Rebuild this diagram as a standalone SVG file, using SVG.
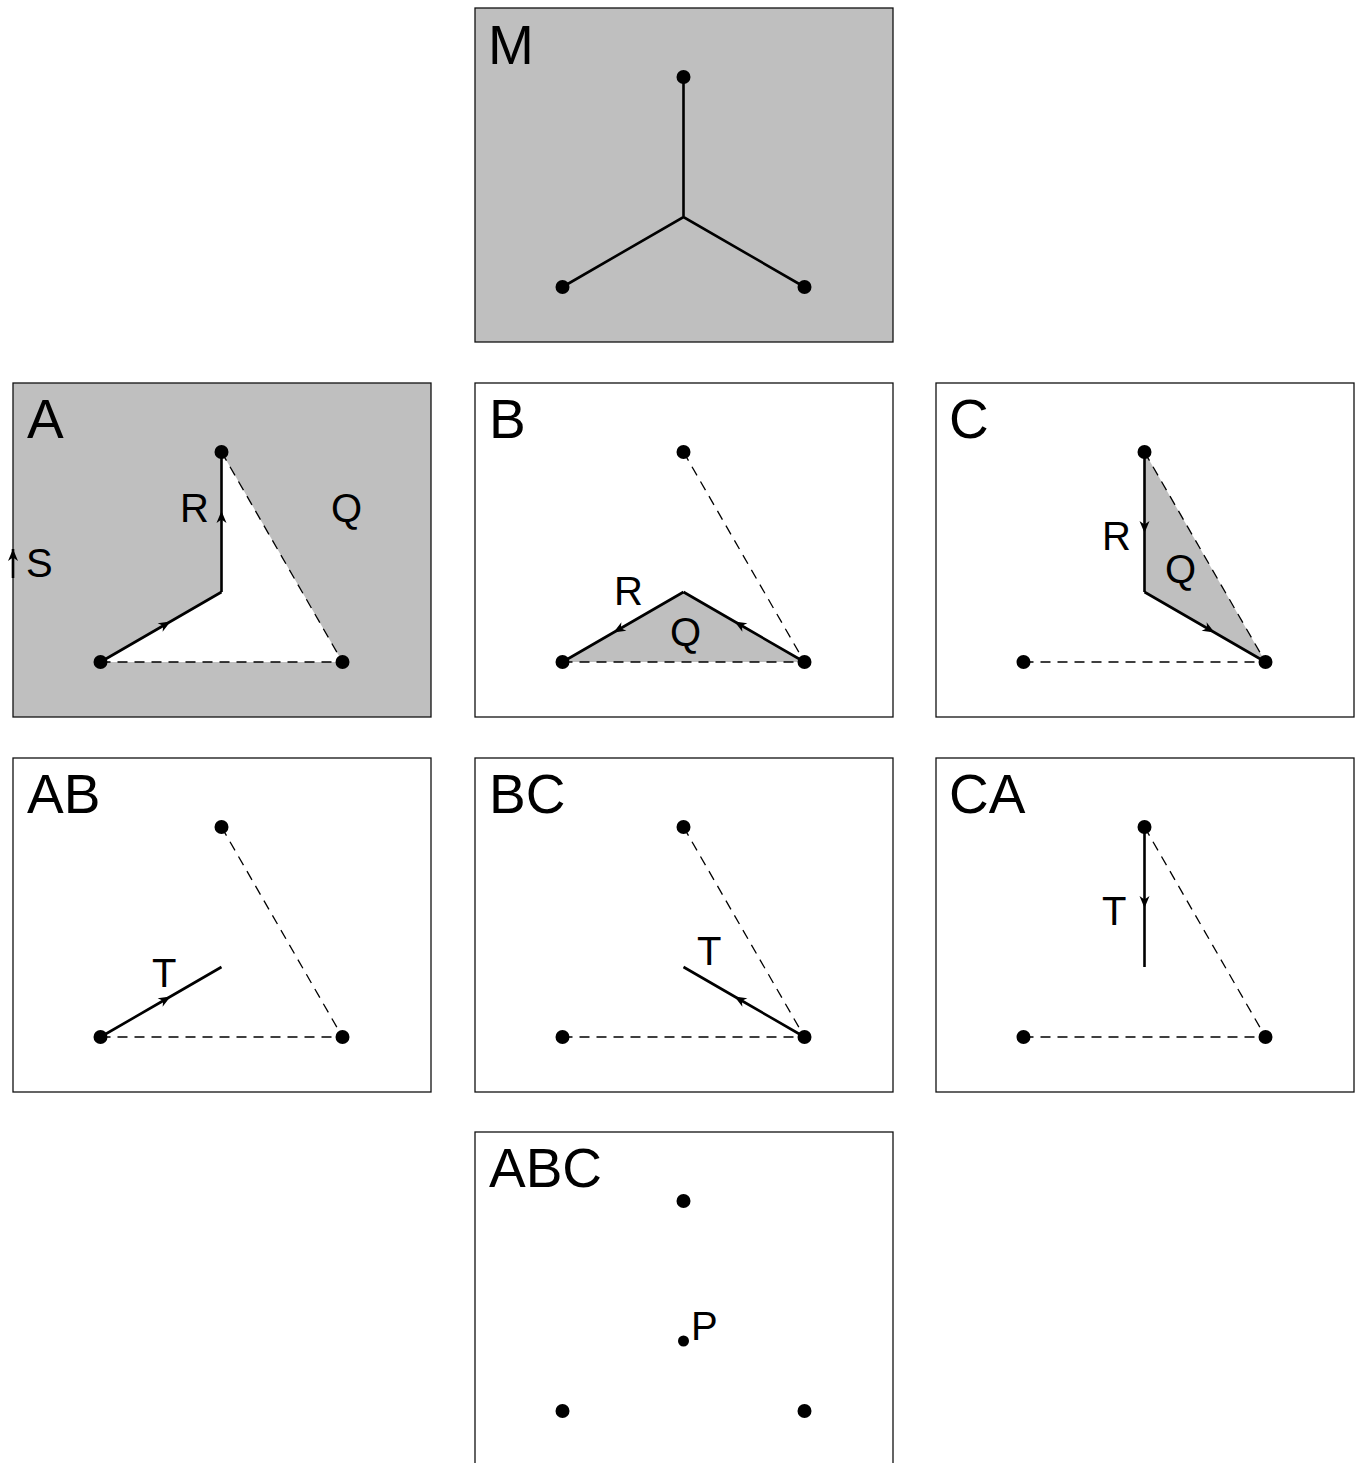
<svg xmlns="http://www.w3.org/2000/svg" width="1363" height="1463" viewBox="0 0 1363 1463">
<style>
.frame{stroke:#111;stroke-width:1.3}
.g{fill:#bfbfbf}
.w{fill:#fff}
.solid{fill:none;stroke:#000;stroke-width:2.6;marker-mid:url(#mid)}
.plain{fill:none;stroke:#000;stroke-width:2.6}
.dash{fill:none;stroke:#000;stroke-width:1.3;stroke-dasharray:10 7}
.big{font-family:"Liberation Sans",Arial,sans-serif;font-size:55px;fill:#000}
.sm{font-family:"Liberation Sans",Arial,sans-serif;font-size:40px;fill:#000}
</style>
<defs>
<marker id="mid" markerUnits="userSpaceOnUse" orient="auto" refX="0" refY="0" markerWidth="30" markerHeight="30" overflow="visible">
<path d="M11,0 L-1,-5 L2.5,0 L-1,5 Z" fill="#000"/>
</marker>
<marker id="end" markerUnits="userSpaceOnUse" orient="auto" refX="0" refY="0" markerWidth="30" markerHeight="30" overflow="visible">
<path d="M0,0 L-12,-5 L-8.5,0 L-12,5 Z" fill="#000"/>
</marker>
<circle id="dot" r="7" fill="#000"/>
<g id="dots3">
<use href="#dot" x="208.5" y="69"/>
<use href="#dot" x="87.5" y="279"/>
<use href="#dot" x="329.5" y="279"/>
</g>
</defs>

<g id="panel-M" transform="translate(475,8)">
<rect class="frame g" x="0" y="0" width="418" height="334"/>
<text class="big" x="13" y="56">M</text>
<g id="M-connectors">
<path class="plain" d="M208.5 69 L208.5 209 M87.5 279 L208.5 209 L329.5 279"/>
</g>
<use href="#dots3"/>
</g>

<g id="panel-A" transform="translate(13,383)">
<rect class="frame g" x="0" y="0" width="418" height="334"/>
<polygon class="w" points="87.5,279 208.5,209 208.5,69 329.5,279"/>
<g id="A-connectors">
<path class="dash" d="M208.5 69 L329.5 279"/>
<path class="dash" d="M87.5 279 L329.5 279"/>
<path class="solid" d="M87.5 279 L148 244 L208.5 209"/>
<path class="solid" d="M208.5 209 L208.5 139 L208.5 69"/>
<path class="plain" d="M0 195 L0 166" marker-end="url(#end)"/>
</g>
<use href="#dots3"/>
<text class="big" x="14" y="55">A</text>
<text class="sm" x="167" y="139">R</text>
<text class="sm" x="318" y="139">Q</text>
<text class="sm" x="13" y="194">S</text>
</g>

<g id="panel-B" transform="translate(475,383)">
<rect class="frame w" x="0" y="0" width="418" height="334"/>
<polygon class="g" points="87.5,279 208.5,209 329.5,279"/>
<g id="B-connectors">
<path class="dash" d="M208.5 69 L329.5 279"/>
<path class="dash" d="M87.5 279 L329.5 279"/>
<path class="solid" d="M329.5 279 L269 244 L208.5 209"/>
<path class="solid" d="M208.5 209 L148 244 L87.5 279"/>
</g>
<use href="#dots3"/>
<text class="big" x="14" y="55">B</text>
<text class="sm" x="139" y="222">R</text>
<text class="sm" x="195" y="263">Q</text>
</g>

<g id="panel-C" transform="translate(936,383)">
<rect class="frame w" x="0" y="0" width="418" height="334"/>
<polygon class="g" points="208.5,69 208.5,209 329.5,279"/>
<g id="C-connectors">
<path class="dash" d="M208.5 69 L329.5 279"/>
<path class="dash" d="M87.5 279 L329.5 279"/>
<path class="solid" d="M208.5 69 L208.5 139 L208.5 209"/>
<path class="solid" d="M208.5 209 L269 244 L329.5 279"/>
</g>
<use href="#dots3"/>
<text class="big" x="13" y="55">C</text>
<text class="sm" x="166" y="167">R</text>
<text class="sm" x="229" y="200">Q</text>
</g>

<g id="panel-AB" transform="translate(13,758)">
<rect class="frame w" x="0" y="0" width="418" height="334"/>
<g id="AB-connectors">
<path class="dash" d="M208.5 69 L329.5 279"/>
<path class="dash" d="M87.5 279 L329.5 279"/>
<path class="solid" d="M87.5 279 L148 244 L208.5 209"/>
</g>
<use href="#dots3"/>
<text class="big" x="14" y="55">AB</text>
<text class="sm" x="139" y="229">T</text>
</g>

<g id="panel-BC" transform="translate(475,758)">
<rect class="frame w" x="0" y="0" width="418" height="334"/>
<g id="BC-connectors">
<path class="dash" d="M208.5 69 L329.5 279"/>
<path class="dash" d="M87.5 279 L329.5 279"/>
<path class="solid" d="M329.5 279 L269 244 L208.5 209"/>
</g>
<use href="#dots3"/>
<text class="big" x="14" y="55">BC</text>
<text class="sm" x="222" y="207">T</text>
</g>

<g id="panel-CA" transform="translate(936,758)">
<rect class="frame w" x="0" y="0" width="418" height="334"/>
<g id="CA-connectors">
<path class="dash" d="M208.5 69 L329.5 279"/>
<path class="dash" d="M87.5 279 L329.5 279"/>
<path class="solid" d="M208.5 69 L208.5 139 L208.5 209"/>
</g>
<use href="#dots3"/>
<text class="big" x="13" y="55">CA</text>
<text class="sm" x="166" y="167">T</text>
</g>

<g id="panel-ABC" transform="translate(475,1132)">
<rect class="frame w" x="0" y="0" width="418" height="334"/>
<use href="#dots3"/>
<circle cx="208.5" cy="209" r="5.5" fill="#000"/>
<text class="big" x="14" y="55">ABC</text>
<text class="sm" x="216" y="208">P</text>
</g>
</svg>
